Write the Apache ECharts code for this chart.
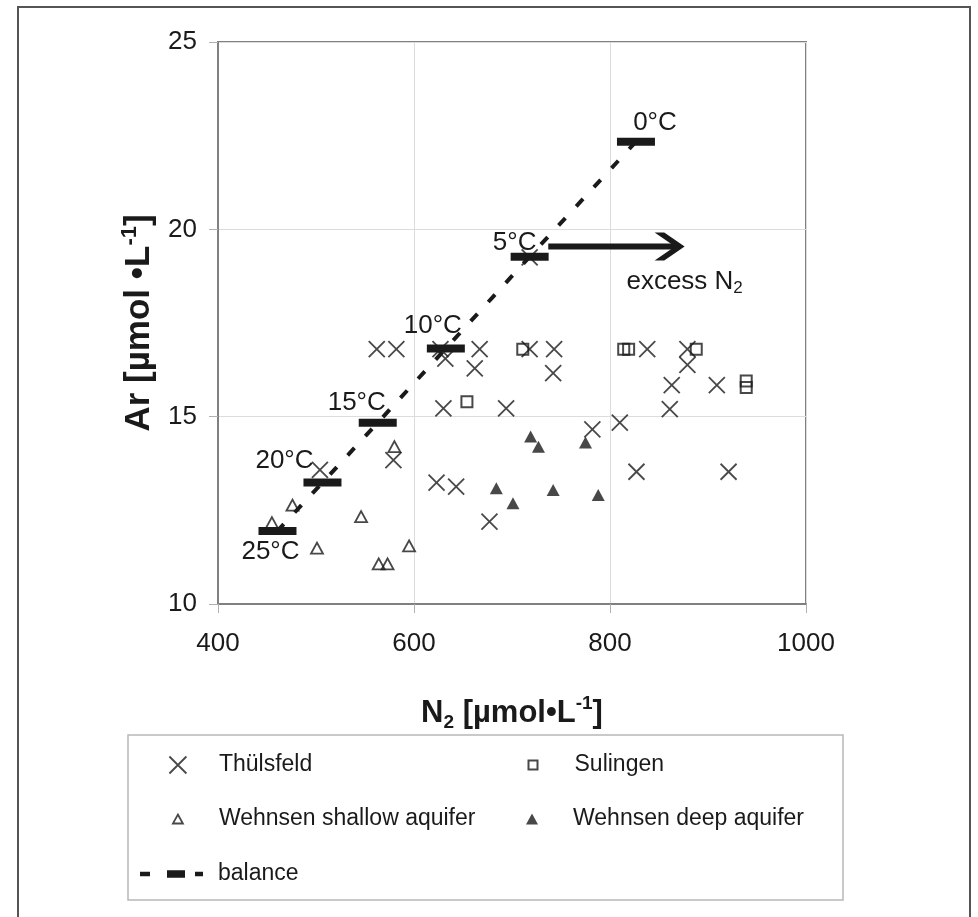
<!DOCTYPE html>
<html><head><meta charset="utf-8">
<script src="https://cdn.jsdelivr.net/npm/echarts@6/dist/echarts.min.js"></script>
<style>html,body{margin:0;padding:0;background:#fff}#c{width:978px;height:917px}</style>
</head><body><div id="c"></div>
<script>
// ---------- data ----------
const xTickValues = [400, 600, 800, 1000];
const yTickValues = [10, 15, 20, 25];

const thulsfeldN2 = [562, 582, 627, 632, 667, 662, 718, 743, 742, 630, 694, 579, 504, 623, 643, 677, 782, 810, 838, 879, 879, 863, 909, 861, 827, 921, 718];
const thulsfeldAr = [16.80, 16.80, 16.80, 16.55, 16.80, 16.29, 16.80, 16.80, 16.16, 15.22, 15.22, 13.84, 13.58, 13.24, 13.13, 12.20, 14.66, 14.84, 16.80, 16.80, 16.38, 15.84, 15.84, 15.20, 13.53, 13.53, 19.25];

const sulingenN2 = [711, 654, 814, 819, 888, 939, 939];
const sulingenAr = [16.80, 15.40, 16.80, 16.80, 16.80, 15.95, 15.78];

const shallowN2 = [455, 476, 501, 546, 564, 573, 580, 595];
const shallowAr = [12.17, 12.64, 11.49, 12.33, 11.07, 11.07, 14.20, 11.55];

const deepN2 = [684, 701, 719, 727, 742, 775, 788];
const deepAr = [13.09, 12.69, 14.47, 14.20, 13.04, 14.31, 12.91];

const balanceTemps = ['0°C', '5°C', '10°C', '15°C', '20°C', '25°C'];
const balanceN2 = [826.5, 718, 632.5, 563, 506.6, 460.7];
const balanceAr = [22.34, 19.27, 16.82, 14.84, 13.24, 11.95];

const arrowN2 = [737, 869];
const arrowAr = [19.54, 19.54];
const arrowText = 'excess N';

const seriesNames = ['Thülsfeld', 'Sulingen', 'Wehnsen shallow aquifer', 'Wehnsen deep aquifer', 'balance'];

// ---------- styles ----------
const FONT = "'Liberation Sans', Arial, sans-serif";
const INK = '#1a1a1a';
const X_PATH = 'path://M0,0L10,10M0,10L10,0';
const BAR_PATH = 'path://M0,0H38V8H0Z';
const CHEVRON = 'path://M0,0L4.5,0L14,10L4.5,20L0,20L9.5,10Z';
const BALANCE_ICON = 'path://M0,1.5H10V6H0Z M27,0H45V7.5H27Z M55,1.5H63V6H55Z';
const tempLabelOffsets = [[19, -19], [-15, -14], [-13, -23], [-21, -20], [-38, -22], [-7, 21]];

const zip = (a, b) => a.map((v, i) => [v, b[i]]);

const chart = echarts.init(document.getElementById('c'), null, {renderer: 'canvas'});

function richName(size) {
  const s = Math.round(size * 0.62);
  return {
    b: {fontSize: size, fontWeight: 'bold', color: INK, fontFamily: FONT, lineHeight: size + 7},
    sub: {fontSize: s, fontWeight: 'bold', color: INK, fontFamily: FONT, lineHeight: s, verticalAlign: 'bottom'},
    sup: {fontSize: s, fontWeight: 'bold', color: INK, fontFamily: FONT, lineHeight: s, verticalAlign: 'top'}
  };
}

const legendText = {fontSize: 23, color: INK, fontFamily: FONT};
const lt = (pad) => Object.assign({padding: [0, 0, 0, pad]}, legendText);
const ROW = [763, 817, 872];
const ROW_SHIFT = 9.5;

const option = {
  animation: false,
  backgroundColor: '#fff',
  textStyle: {fontFamily: FONT},
  grid: {left: 218, top: 42, width: 588, height: 562, show: true, borderColor: '#808080', borderWidth: 2, backgroundColor: 'transparent'},
  xAxis: {
    type: 'value', min: xTickValues[0], max: xTickValues[xTickValues.length - 1], interval: xTickValues[1] - xTickValues[0],
    axisLine: {show: true, lineStyle: {color: '#808080', width: 2}},
    axisTick: {show: true, length: 9, lineStyle: {color: '#b0b0b0', width: 1}},
    axisLabel: {fontSize: 26, color: INK, margin: 27, fontFamily: FONT, formatter: v => String(v)},
    splitLine: {show: true, lineStyle: {color: '#dcdcdc', width: 1}},
    name: '{b|N}{sub|2}{b| [µmol•L}{sup|-1}{b|]}',
    nameLocation: 'middle', nameGap: 90,
    nameTextStyle: {rich: richName(31)}
  },
  yAxis: {
    type: 'value', min: yTickValues[0], max: yTickValues[yTickValues.length - 1], interval: yTickValues[1] - yTickValues[0],
    axisLine: {show: true, lineStyle: {color: '#808080', width: 2}},
    axisTick: {show: true, length: 9, lineStyle: {color: '#b0b0b0', width: 1}},
    axisLabel: {fontSize: 26, color: INK, margin: 21, fontFamily: FONT, formatter: v => String(v)},
    splitLine: {show: true, lineStyle: {color: '#dcdcdc', width: 1}},
    name: '{b|Ar [µmol •L}{sup|-1}{b|]}',
    nameLocation: 'middle', nameGap: 57, nameRotate: 90,
    nameTextStyle: {rich: richName(35)}
  },
  legend: [
    {data: [seriesNames[0]], left: 177 - 8.5, top: ROW[0] - ROW_SHIFT, padding: 0, itemWidth: 17, itemHeight: 17, textStyle: lt(27.5),
     itemStyle: {color: 'transparent', borderColor: INK, borderWidth: 1.8}},
    {data: [seriesNames[1]], left: 532 - 4.5, top: ROW[0] - ROW_SHIFT, padding: 0, itemWidth: 9, itemHeight: 9, textStyle: lt(32),
     itemStyle: {color: 'transparent', borderColor: INK, borderWidth: 2}},
    {data: [seriesNames[2]], left: 177 - 5, top: ROW[1] - ROW_SHIFT, padding: 0, itemWidth: 10, itemHeight: 9, textStyle: lt(31),
     itemStyle: {color: 'transparent', borderColor: INK, borderWidth: 1.8}},
    {data: [seriesNames[3]], left: 532 - 6, top: ROW[1] - ROW_SHIFT, padding: 0, itemWidth: 12, itemHeight: 11, textStyle: lt(30),
     itemStyle: {color: INK, borderWidth: 0}},
    {data: [seriesNames[4]], left: 140, top: ROW[2] - ROW_SHIFT, padding: 0, itemWidth: 63, itemHeight: 7.5, icon: BALANCE_ICON,
     textStyle: lt(10), itemStyle: {color: INK, borderWidth: 0}}
  ],
  graphic: [
    {type: 'rect', shape: {x: 18, y: 7, width: 952, height: 950}, style: {fill: 'none', stroke: '#555', lineWidth: 2}, silent: true, z: -1},
    {type: 'rect', shape: {x: 128, y: 735, width: 715, height: 165}, style: {fill: 'none', stroke: '#b8b8b8', lineWidth: 1.5}, silent: true, z: -1}
  ],
  series: [
    {
      name: seriesNames[0], type: 'scatter', data: zip(thulsfeldN2, thulsfeldAr),
      symbol: X_PATH, symbolSize: 16,
      itemStyle: {color: 'transparent', borderColor: INK, borderWidth: 1.8},
      emphasis: {disabled: true}, silent: true, z: 2
    },
    {
      name: seriesNames[1], type: 'scatter', data: zip(sulingenN2, sulingenAr),
      symbol: 'rect', symbolSize: 11,
      itemStyle: {color: 'transparent', borderColor: INK, borderWidth: 2},
      emphasis: {disabled: true}, silent: true, z: 2
    },
    {
      name: seriesNames[2], type: 'scatter', data: zip(shallowN2, shallowAr),
      symbol: 'triangle', symbolSize: [12, 11],
      itemStyle: {color: 'transparent', borderColor: INK, borderWidth: 1.8},
      emphasis: {disabled: true}, silent: true, z: 2
    },
    {
      name: seriesNames[3], type: 'scatter', data: zip(deepN2, deepAr),
      symbol: 'triangle', symbolSize: [13, 12],
      itemStyle: {color: INK, borderWidth: 0},
      emphasis: {disabled: true}, silent: true, z: 2
    },
    {
      name: seriesNames[4], type: 'line',
      data: balanceN2.map((x, i) => ({
        value: [x, balanceAr[i]],
        label: {show: true, formatter: balanceTemps[i], position: 'inside', offset: tempLabelOffsets[i],
                fontSize: 26, color: INK, fontFamily: FONT}
      })),
      symbol: BAR_PATH, symbolSize: [38, 8], showSymbol: true, showAllSymbol: true,
      lineStyle: {color: INK, width: 4, type: [10, 16], cap: 'butt'},
      itemStyle: {color: INK, borderWidth: 0},
      emphasis: {disabled: true}, silent: true, z: 4
    },
    {
      name: 'arrow', type: 'line',
      data: arrowN2.map((x, i) => i === 0
        ? {value: [x, arrowAr[i]], symbol: 'none'}
        : {value: [x, arrowAr[i]], symbol: CHEVRON, symbolSize: [30, 28], symbolOffset: [-8, 0]}),
      lineStyle: {color: INK, width: 6, cap: 'butt'},
      itemStyle: {color: INK, borderWidth: 0},
      markPoint: {
        symbol: 'rect', symbolSize: 1, itemStyle: {color: 'transparent'},
        data: [{coord: [arrowN2[1], arrowAr[1]],
                label: {show: true, position: 'inside', offset: [7, 35],
                        formatter: '{a|' + arrowText + '}{s|2}',
                        rich: {a: {fontSize: 26, color: INK, fontFamily: FONT, lineHeight: 30},
                               s: {fontSize: 17, color: INK, fontFamily: FONT, lineHeight: 14, verticalAlign: 'bottom'}}}}],
        silent: true
      },
      emphasis: {disabled: true}, silent: true, z: 4
    }
  ]
};
chart.setOption(option);
</script>
</body></html>
